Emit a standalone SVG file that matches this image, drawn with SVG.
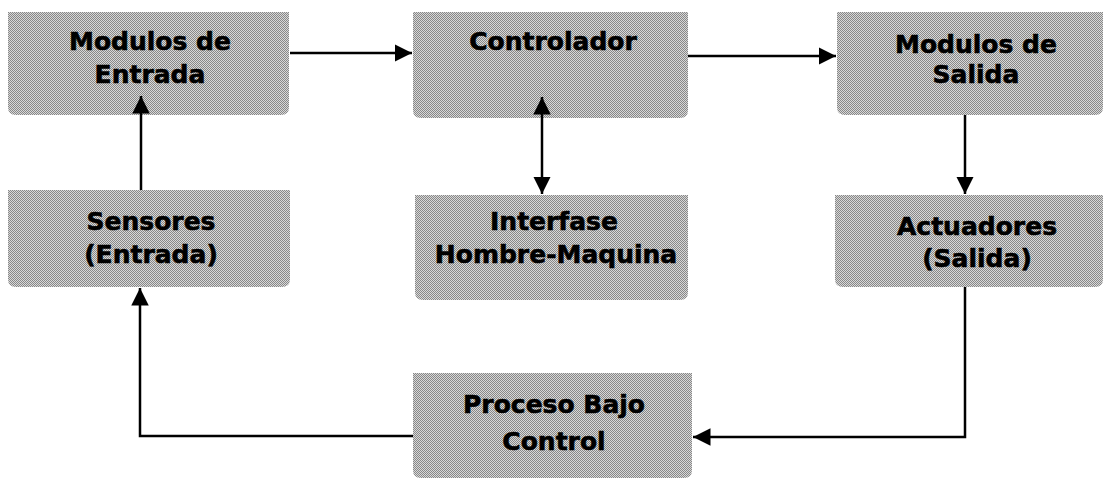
<svg xmlns="http://www.w3.org/2000/svg" width="1104" height="478" viewBox="0 0 1104 478">
<defs>
<pattern id="dither" width="2" height="2" patternUnits="userSpaceOnUse">
<rect width="2" height="2" fill="#d8d8d8"/>
<rect width="1" height="1" fill="#888"/>
<rect x="1" y="1" width="1" height="1" fill="#888"/>
</pattern>
<marker id="arr" viewBox="0 0 10 10" refX="10" refY="5" markerWidth="7" markerHeight="7" orient="auto-start-reverse" markerUnits="strokeWidth">
<path d="M0,0 L10,5 L0,10 Z" fill="#000"/>
</marker>
<style>
.box{fill:url(#dither);}
.lbl{font-family:"DejaVu Sans",Verdana,sans-serif;font-weight:bold;font-size:25px;fill:#000;stroke:#000;stroke-width:0.6;text-anchor:middle;}
.con{fill:none;stroke:#000;stroke-width:2.5;}
</style>
</defs>
<rect width="1104" height="478" fill="#fff"/>
<g id="modulos-entrada">
<path class="box" d="M8,12 H289 V107 Q289,115 281,115 H16 Q8,115 8,107 Z"/>
<text class="lbl" x="150" y="50">Modulos de</text>
<text class="lbl" x="150" y="83">Entrada</text>
</g>
<g id="controlador">
<path class="box" d="M413,12 H688 V110 Q688,118 680,118 H421 Q413,118 413,110 Z"/>
<text class="lbl" x="553" y="50">Controlador</text>
</g>
<g id="modulos-salida">
<path class="box" d="M837,12 H1103 V107 Q1103,115 1095,115 H845 Q837,115 837,107 Z"/>
<text class="lbl" x="976" y="53">Modulos de</text>
<text class="lbl" x="976" y="83">Salida</text>
</g>
<g id="sensores">
<path class="box" d="M8,190 H290 V279 Q290,287 282,287 H16 Q8,287 8,279 Z"/>
<text class="lbl" x="151" y="230">Sensores</text>
<text class="lbl" x="151" y="263">(Entrada)</text>
</g>
<g id="interfase">
<path class="box" d="M415,195 H688 V292 Q688,300 680,300 H423 Q415,300 415,292 Z"/>
<text class="lbl" x="554" y="230">Interfase</text>
<text class="lbl" x="556" y="263">Hombre-Maquina</text>
</g>
<g id="actuadores">
<path class="box" d="M835,195 H1103 V279 Q1103,287 1095,287 H843 Q835,287 835,279 Z"/>
<text class="lbl" x="977" y="235">Actuadores</text>
<text class="lbl" x="977" y="267">(Salida)</text>
</g>
<g id="proceso">
<path class="box" d="M413,373 H692 V470 Q692,478 684,478 H421 Q413,478 413,470 Z"/>
<text class="lbl" x="554" y="413">Proceso Bajo</text>
<text class="lbl" x="554" y="450">Control</text>
</g>
<g id="connectors">
<path class="con" d="M290,53 H412" marker-end="url(#arr)"/>
<path class="con" d="M688,56 H836" marker-end="url(#arr)"/>
<path class="con" d="M141,190 V96" marker-end="url(#arr)"/>
<path class="con" d="M542,97 V194" marker-start="url(#arr)" marker-end="url(#arr)"/>
<path class="con" d="M965,115 V194" marker-end="url(#arr)"/>
<path class="con" d="M965,287 V437 H693" marker-end="url(#arr)"/>
<path class="con" d="M413,436 H140 V288" marker-end="url(#arr)"/>
</g>
</svg>
